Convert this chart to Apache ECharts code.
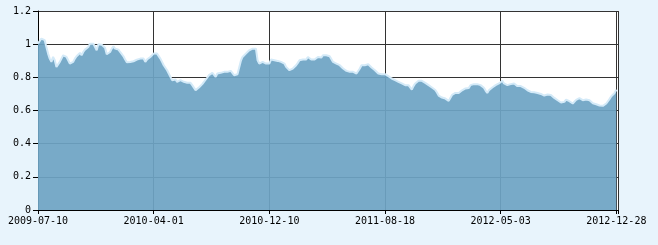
<!DOCTYPE html>
<html>
<head>
<meta charset="utf-8">
<script src="https://cdn.jsdelivr.net/npm/echarts@6/dist/echarts.min.js"></script>
<style>
html,body{margin:0;padding:0;background:#e8f4fc;}
#chart{width:658px;height:245px;}
</style>
</head>
<body>
<div id="chart"></div>
<script>
// Tick labels on the date axis (one every 69 trading days)
var tickLabels = ["2009-07-10","2010-04-01","2010-12-10","2011-08-18","2012-05-03","2012-12-28"];
var tickStep = 69;
// Y axis tick values
var yTicks = [0, 0.2, 0.4, 0.6, 0.8, 1, 1.2];

// Series values, one per trading day index
var values = [
1.003,1.013,1.034,1.044,1.024,0.983,0.943,0.913,0.893,0.923,
0.903,0.863,0.867,0.893,0.913,0.933,0.943,0.923,0.903,0.883,
0.883,0.893,0.913,0.927,0.939,0.947,0.933,0.953,0.967,0.973,
0.983,1.003,1.007,1.003,0.993,0.963,0.999,1.003,0.997,0.999,
0.979,0.939,0.933,0.953,0.973,0.987,0.973,0.973,0.967,0.953,
0.943,0.927,0.907,0.891,0.887,0.893,0.893,0.897,0.903,0.907,
0.919,0.913,0.903,0.913,0.893,0.907,0.913,0.923,0.933,0.943,
0.939,0.943,0.943,0.913,0.893,0.873,0.863,0.843,0.833,0.803,
0.783,0.787,0.787,0.773,0.783,0.783,0.787,0.773,0.763,0.767,
0.773,0.767,0.753,0.743,0.723,0.727,0.739,0.747,0.759,0.773,
0.783,0.799,0.813,0.819,0.827,0.819,0.803,0.823,0.833,0.827,
0.823,0.833,0.827,0.833,0.843,0.839,0.827,0.813,0.813,0.819,
0.827,0.899,0.923,0.933,0.943,0.953,0.963,0.963,0.973,0.983,
0.973,0.903,0.883,0.893,0.893,0.903,0.883,0.893,0.883,0.907,
0.913,0.903,0.893,0.899,0.887,0.893,0.893,0.883,0.863,0.853,
0.843,0.847,0.853,0.863,0.873,0.887,0.903,0.903,0.907,0.913,
0.907,0.923,0.919,0.907,0.903,0.907,0.913,0.923,0.913,0.919,
0.933,0.939,0.933,0.933,0.927,0.927,
0.893,0.887,0.883,0.879,0.873,0.863,0.853,0.847,0.839,0.843,
0.833,0.843,0.833,0.823,0.823,0.833,0.853,0.873,0.883,0.873,
0.883,0.879,0.873,0.859,0.853,0.843,0.839,0.823,0.813,0.819,
0.807,0.819,0.819,0.807,0.811,0.793,0.787,0.783,0.779,0.773,
0.773,0.763,0.757,0.753,0.743,0.753,0.743,0.726,0.747,0.763,
0.773,0.779,0.787,0.779,0.773,0.767,0.759,0.753,0.743,0.739,
0.733,0.724,0.708,0.690,0.682,0.678,0.672,0.672,0.666,0.658,
0.666,0.694,0.702,0.706,0.712,0.706,0.712,0.722,0.726,0.733,
0.726,0.735,0.753,0.763,0.759,0.763,0.759,0.763,0.753,0.747,
0.737,0.720,0.706,0.722,0.733,0.739,0.747,0.753,0.759,0.763,
0.769,0.779,0.763,0.763,0.753,0.753,0.759,0.753,0.763,0.757,
0.747,0.753,0.747,0.743,0.737,0.726,0.722,0.714,0.712,0.712,
0.710,0.708,0.706,0.702,0.700,0.696,0.690,0.686,0.696,0.702,
0.694,0.682,0.676,0.670,0.662,0.650,0.648,0.650,0.652,0.666,
0.670,0.656,0.644,0.642,0.652,0.664,0.668,0.674,0.674,0.662,
0.656,0.666,0.670,0.662,0.650,0.644,0.640,0.638,0.636,0.630,
0.628,0.628,0.626,0.642,0.656,0.670,0.686,0.696,0.706,0.726
];

var seriesData = values.map(function (v, i) { return [i, v]; });
var lastIndex = values.length - 1;

var chart = echarts.init(document.getElementById('chart'), null, {renderer: 'canvas'});
var labelFont = {fontFamily: 'DejaVu Sans Mono', fontSize: 10, color: '#000'};

chart.setOption({
  animation: false,
  backgroundColor: '#e8f4fc',
  grid: {
    left: 38, right: 40, top: 11, bottom: 35,
    show: true, backgroundColor: '#ffffff', borderWidth: 0
  },
  xAxis: {
    type: 'value',
    min: 0,
    max: lastIndex + 1,
    interval: tickStep,
    axisLine: {show: true, lineStyle: {color: '#000', width: 1}},
    axisTick: {show: true, length: 4, lineStyle: {color: '#000'}},
    axisLabel: Object.assign({
      margin: 6,
      showMaxLabel: true,
      formatter: function (val) {
        if (val % tickStep !== 0) return '';
        var k = val / tickStep;
        return tickLabels[k] || '';
      }
    }, labelFont),
    splitLine: {show: true, lineStyle: {color: '#333333', width: 1}}
  },
  yAxis: {
    type: 'value',
    min: yTicks[0],
    max: yTicks[yTicks.length - 1],
    interval: 0.2,
    axisLine: {show: true, lineStyle: {color: '#000', width: 1}},
    axisTick: {show: true, length: 5, lineStyle: {color: '#000'}},
    axisLabel: Object.assign({
      margin: 7,
      formatter: function (val) { return String(Math.round(val * 10) / 10); }
    }, labelFont),
    splitLine: {show: true, lineStyle: {color: '#333333', width: 1}}
  },
  series: [{
    type: 'line',
    data: seriesData,
    symbol: 'none',
    smooth: false,
    lineStyle: {color: '#d4eaf8', width: 2},
    areaStyle: {color: '#6ea4c4', opacity: 0.93},
    z: 2
  }]
});
</script>
</body>
</html>
